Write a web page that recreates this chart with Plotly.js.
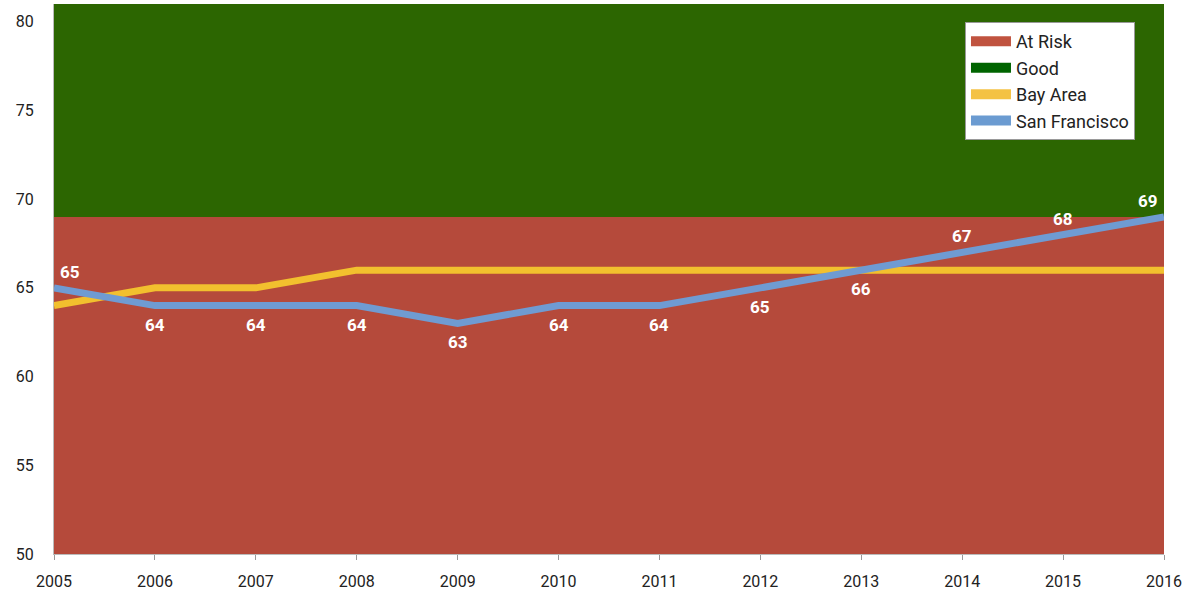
<!DOCTYPE html>
<html>
<head>
<meta charset="utf-8">
<script src="https://cdn.plot.ly/plotly-3.0.1.min.js"></script>
<style>
  html, body { margin: 0; padding: 0; background: #fff; }
  #chart { width: 1182px; height: 591px; }
</style>
</head>
<body>
<div id="chart"></div>
<script>
    const years = [2005, 2006, 2007, 2008, 2009, 2010, 2011, 2012, 2013, 2014, 2015, 2016];
    const atRisk = [69, 69, 69, 69, 69, 69, 69, 69, 69, 69, 69, 69];
    const good = [81, 81, 81, 81, 81, 81, 81, 81, 81, 81, 81, 81];
    const bayArea = [64, 65, 65, 66, 66, 66, 66, 66, 66, 66, 66, 66];
    const sanFrancisco = [65, 64, 64, 64, 63, 64, 64, 65, 66, 67, 68, 69];
    const sfLabelAbove = [true, false, false, false, false, false, false, false, false, true, true, true];

    const colors = {
        risk: '#b54a3b',
        good: '#2c6601',
        bay: '#f2c02e',
        sf: '#6f9bd2'
    };

    const traces = [
        {
            name: 'At Risk', x: years, y: atRisk, type: 'scatter', mode: 'none',
            fill: 'tozeroy', fillcolor: colors.risk, showlegend: false, hoverinfo: 'skip'
        },
        {
            name: 'Good', x: years, y: good, type: 'scatter', mode: 'none',
            fill: 'tonexty', fillcolor: colors.good, showlegend: false, hoverinfo: 'skip'
        },
        {
            name: 'Bay Area', x: years, y: bayArea, type: 'scatter', mode: 'lines',
            line: { color: colors.bay, width: 7 }, showlegend: false
        },
        {
            name: 'San Francisco', x: years, y: sanFrancisco, type: 'scatter', mode: 'lines',
            line: { color: colors.sf, width: 7 }, showlegend: false
        }
    ];

    // legend swatches (thick line segments, no data)
    const legendItems = [
        ['At Risk', '#c0533f'],
        ['Good', '#006400'],
        ['Bay Area', '#f4c244'],
        ['San Francisco', '#6b9bd1']
    ];
    legendItems.forEach(([name, color]) => {
        traces.push({
            name: name, x: [years[0]], y: [null], type: 'scatter', mode: 'lines',
            line: { color: color, width: 16 }, showlegend: true, hoverinfo: 'skip'
        });
    });

    const labels = years.map((yr, i) => ({
        x: yr,
        y: sanFrancisco[i],
        text: String(sanFrancisco[i]),
        showarrow: false,
        yshift: sfLabelAbove[i] ? 16 : -19,
        xshift: i === 0 ? 16 : (i === years.length - 1 ? -16 : 0),
        font: { color: '#ffffff', size: 17, family: 'Roboto', weight: 'bold' }
    }));

    Plotly.newPlot('chart', traces, {
        width: 1182,
        height: 591,
        margin: { t: 4, b: 37, l: 54, r: 18 },
        paper_bgcolor: '#ffffff',
        plot_bgcolor: '#ffffff',
        font: { family: 'Roboto', size: 16, color: '#222' },
        showlegend: true,
        legend: {
            x: 0.8207, y: 0.967, xanchor: 'left', yanchor: 'top',
            traceorder: 'normal',
            bgcolor: '#ffffff', bordercolor: '#999', borderwidth: 1,
            font: { size: 18, color: '#222' },
            itemwidth: 40,
            tracegroupgap: 0
        },
        annotations: labels,
        xaxis: {
            range: [2005, 2016],
            tickvals: years,
            ticktext: years.map(String),
            showgrid: false,
            zeroline: false,
            showline: true,
            linecolor: '#bbb',
            ticks: 'outside',
            ticklen: 5,
            tickcolor: '#999',
            ticklabelstandoff: 8,
            tickfont: { size: 16 }
        },
        yaxis: {
            range: [50, 81],
            tickvals: [50, 55, 60, 65, 70, 75, 80],
            showgrid: false,
            zeroline: false,
            showline: true,
            linecolor: '#bbb',
            ticks: '',
            ticklabelstandoff: 16,
            tickfont: { size: 16 }
        }
    }, { displayModeBar: false });
</script>
</body>
</html>
